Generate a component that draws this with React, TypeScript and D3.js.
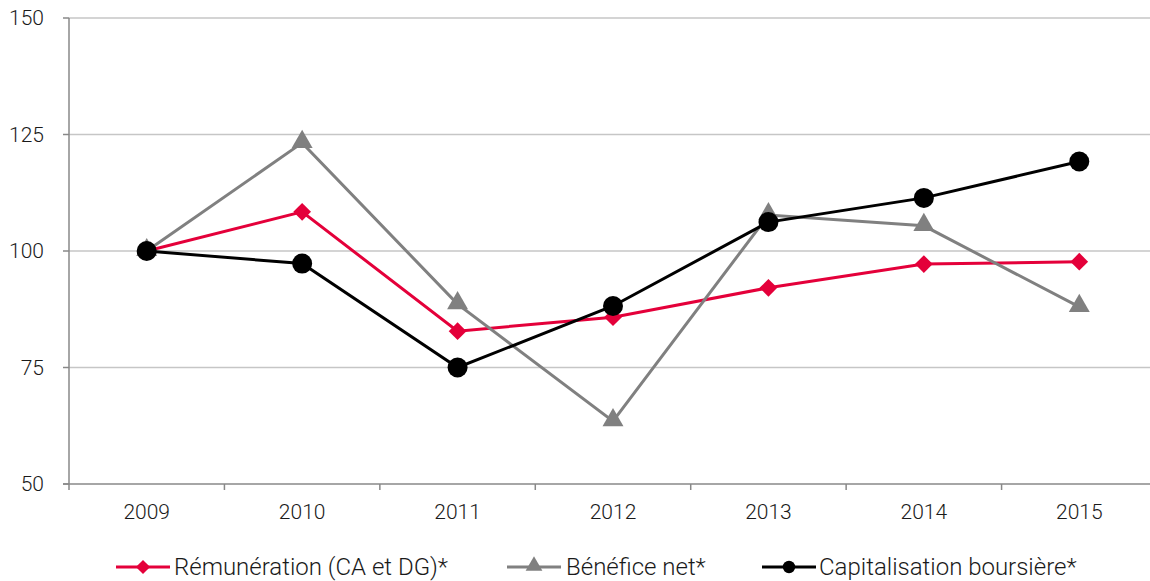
import React from "react";
import * as d3 from "d3";

const years = ["2009", "2010", "2011", "2012", "2013", "2014", "2015"];
const remuneration = [100, 108.4, 82.8, 85.8, 92.1, 97.2, 97.7];
const benefice = [100, 123.2, 88.6, 63.5, 107.7, 105.4, 88.0];
const capitalisation = [100, 97.3, 75.0, 88.2, 106.2, 111.4, 119.2];
const yTicks = [50, 75, 100, 125, 150];
const seriesNames = ["Rémunération (CA et DG)*", "Bénéfice net*", "Capitalisation boursière*"];

const W = 1150;
const H = 581;
const FONT = "Roboto, 'Liberation Sans', sans-serif";

export default function App() {
  const x = d3.scaleBand<string>().domain(years).range([69, 1157]).padding(0);
  const y = d3.scaleLinear().domain([50, 150]).range([484, 18]);
  const cx = (i: number) => (x(years[i]) as number) + x.bandwidth() / 2;
  const line = d3
    .line<number>()
    .x((_, i) => cx(i))
    .y((d) => y(d));

  const series = [
    { name: seriesNames[0], data: remuneration, color: "#E4003A", marker: "diamond" },
    { name: seriesNames[1], data: benefice, color: "#808080", marker: "triangle" },
    { name: seriesNames[2], data: capitalisation, color: "#000000", marker: "circle" },
  ];

  const marker = (type: string, px: number, py: number, color: string, key: string, s: number) => {
    if (type === "circle") return <circle key={key} cx={px} cy={py} r={10 * s} fill={color} />;
    if (type === "diamond")
      return (
        <path key={key} d={d3.symbol(d3.symbolDiamond2, 200 * s * s)() as string} transform={`translate(${px},${py})`} fill={color} />
      );
    return (
      <path key={key} d={d3.symbol(d3.symbolTriangle, 190 * s * s)() as string} transform={`translate(${px},${py - 1})`} fill={color} />
    );
  };

  const legend = [
    { lx: 116, tx: 174, ms: 0.8 },
    { lx: 507, tx: 566, ms: 0.8 },
    { lx: 762, tx: 819, ms: 0.62 },
  ];

  return (
    <svg width={W} height={H} style={{ position: "absolute", left: 0, top: 0, background: "#fff" }}>
      {yTicks.map((t) => (
        <g key={t}>
          {t !== 50 && <line x1={69} x2={W} y1={y(t)} y2={y(t)} stroke="#c6c6c6" strokeWidth={1.5} />}
          <line x1={63} x2={69} y1={y(t)} y2={y(t)} stroke="#888" strokeWidth={1.5} />
          <text x={44} y={y(t)} dy="0.35em" textAnchor="end" fontFamily={FONT} fontWeight={300} fontSize={21} fill="#1a1a1a">
            {t}
          </text>
        </g>
      ))}
      <line x1={69} x2={69} y1={18} y2={484} stroke="#888" strokeWidth={1.5} />
      <line x1={63} x2={W} y1={484} y2={484} stroke="#888" strokeWidth={1.5} />
      {years.map((yr, i) => (
        <g key={yr}>
          <line x1={x(yr) as number} x2={x(yr) as number} y1={484} y2={490} stroke="#888" strokeWidth={1.5} />
          <text x={cx(i)} y={512} dy="0.35em" textAnchor="middle" fontFamily={FONT} fontWeight={300} fontSize={21} fill="#1a1a1a">
            {yr}
          </text>
        </g>
      ))}
      {series.map((s) => (
        <g key={s.name}>
          <path d={line(s.data) as string} fill="none" stroke={s.color} strokeWidth={3} />
          {s.data.map((v, i) => marker(s.marker, cx(i), y(v), s.color, s.name + i, 1))}
        </g>
      ))}
      {series.map((s, k) => (
        <g key={"lg" + k}>
          <line x1={legend[k].lx} x2={legend[k].lx + 54} y1={567} y2={567} stroke={s.color} strokeWidth={3} />
          {marker(s.marker, legend[k].lx + 27, 567, s.color, "lm" + k, legend[k].ms)}
          <text x={legend[k].tx} y={567} dy="0.35em" fontFamily={FONT} fontWeight={300} fontSize={24} fill="#1a1a1a">
            {s.name}
          </text>
        </g>
      ))}
    </svg>
  );
}
